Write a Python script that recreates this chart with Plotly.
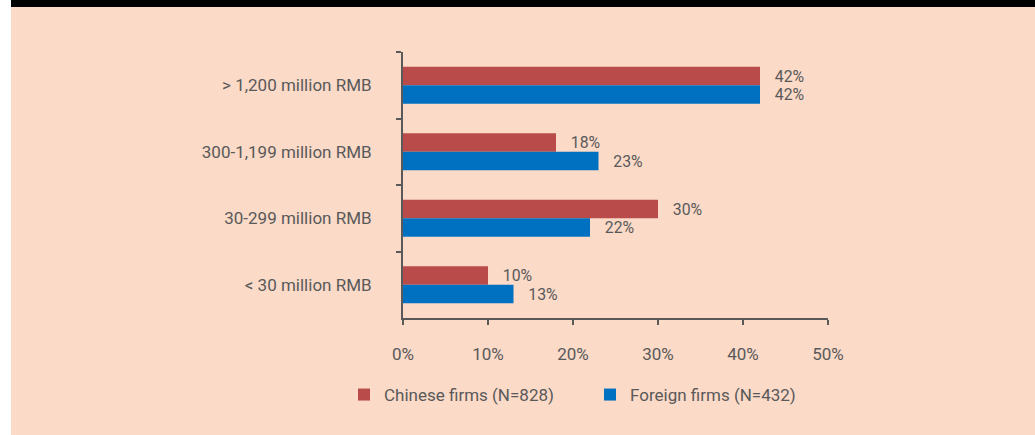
import plotly.graph_objects as go

categories = ["> 1,200 million RMB", "300-1,199 million RMB", "30-299 million RMB", "< 30 million RMB"]
chinese = [42, 18, 30, 10]
foreign = [42, 23, 22, 13]
series_names = ["Chinese firms (N=828)", "Foreign firms (N=432)"]
x_ticks = [0, 10, 20, 30, 40, 50]

RED = "#B94C4A"
BLUE = "#0070C0"
BG = "#FBDAC8"
GRAY = "#595959"
FONT = "Roboto, Liberation Sans, sans-serif"
FS = 17

W, H = 1035, 435
L, R, T, B = 403, 207, 52, 117
pw, ph = W - L - R, H - T - B

def px_x(p):
    return (p - L) / pw

def px_y(p):
    return (H - B - p) / ph

fig = go.Figure()
for name, vals, col in [(series_names[0], chinese, RED), (series_names[1], foreign, BLUE)]:
    fig.add_trace(go.Bar(
        y=categories, x=vals, orientation="h", name=name,
        marker=dict(color=col, line=dict(width=0)),
        text=[f"   {v}%" for v in vals], textposition="outside",
        textfont=dict(family=FONT, size=FS, color=GRAY),
        cliponaxis=False,
    ))

fig.update_layout(
    width=W, height=H,
    margin=dict(l=L, r=R, t=T, b=B, pad=0),
    paper_bgcolor=BG, plot_bgcolor=BG,
    barmode="group", bargap=0.44, bargroupgap=0,
    font=dict(family=FONT, size=FS, color=GRAY),
    showlegend=True,
    legend=dict(orientation="h", x=px_x(344), y=px_y(395), xanchor="left", yanchor="middle",
                bgcolor="rgba(0,0,0,0)", font=dict(family=FONT, size=FS, color=GRAY),
                entrywidth=201, itemwidth=30),
    xaxis=dict(range=[0, 50], tickvals=x_ticks, ticktext=[f"{v}%" for v in x_ticks],
               showgrid=False, zeroline=False, showline=True, linecolor=GRAY, linewidth=2,
               ticks="outside", ticklen=5, tickwidth=2, tickcolor=GRAY,
               ticklabelstandoff=15, tickfont=dict(family=FONT, size=FS, color=GRAY)),
    yaxis=dict(autorange="reversed", showgrid=False, zeroline=False, showline=True,
               linecolor=GRAY, linewidth=2, ticks="outside", ticklen=5, tickwidth=2,
               tickcolor=GRAY, tickson="boundaries", ticklabelstandoff=26,
               tickfont=dict(family=FONT, size=FS, color=GRAY)),
    shapes=[
        dict(type="rect", xref="paper", yref="paper", x0=px_x(-5), x1=px_x(11), y0=px_y(H + 5), y1=px_y(-5),
             fillcolor="white", line=dict(width=0), layer="below"),
        dict(type="rect", xref="paper", yref="paper", x0=px_x(11), x1=px_x(W + 5), y0=px_y(7), y1=px_y(-5),
             fillcolor="black", line=dict(width=0), layer="below"),
    ],
)

fig.write_html(
    "out.html",
    config={"displayModeBar": False},
    post_script=(
        "document.body.style.margin='0';document.body.style.overflow='hidden';"
        f"document.body.style.background='{BG}';document.documentElement.style.background='{BG}';"
    ),
)
